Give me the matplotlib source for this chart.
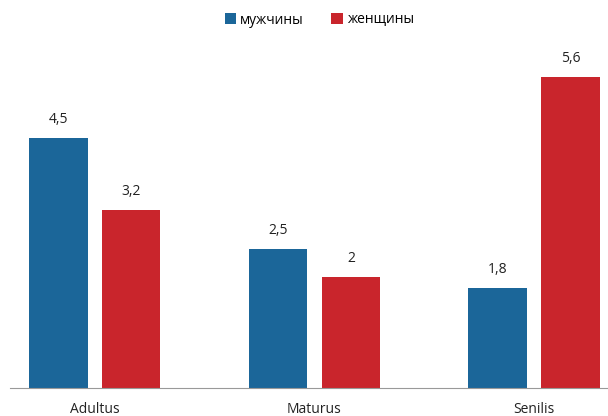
import numpy as np
import matplotlib.pyplot as plt

plt.rcParams['font.family'] = ['Open Sans', 'DejaVu Sans']

categories = ['Adultus', 'Maturus', 'Senilis']
men = [4.5, 2.5, 1.8]
women = [3.2, 2.0, 5.6]
series_names = ['мужчины', 'женщины']
colors = ['#1b6699', '#c9252c']

fig = plt.figure(figsize=(6.08, 4.16), dpi=100)
ax = fig.add_axes([10 / 608, 1 - 388 / 416, 598 / 608, 333.6 / 416])

x = np.arange(len(categories))
w = 0.265
off = 0.166
b1 = ax.bar(x - off, men, w, color=colors[0], label=series_names[0])
b2 = ax.bar(x + off, women, w, color=colors[1], label=series_names[1])

for bars, vals in ((b1, men), (b2, women)):
    for r, v in zip(bars, vals):
        ax.text(r.get_x() + r.get_width() / 2, v + 0.2, f'{v:g}'.replace('.', ','),
                ha='center', va='bottom', fontsize=10, color='#222222')

ax.set_xlim(-0.387, 2.337)
ax.set_ylim(0, 6)
ax.set_xticks(x)
ax.set_xticklabels(categories, fontsize=10, color='#222222')
ax.tick_params(axis='x', length=0, pad=10)
ax.set_yticks([])
for s in ['top', 'right', 'left']:
    ax.spines[s].set_visible(False)
ax.spines['bottom'].set_color('#999999')

fig.legend(loc='upper center', bbox_to_anchor=(0.525, 1.0), ncol=2, frameon=False,
           fontsize=10, handlelength=0.8, handleheight=0.8, handletextpad=0.3,
           columnspacing=2.0)

fig.savefig('out.png', dpi=100)
